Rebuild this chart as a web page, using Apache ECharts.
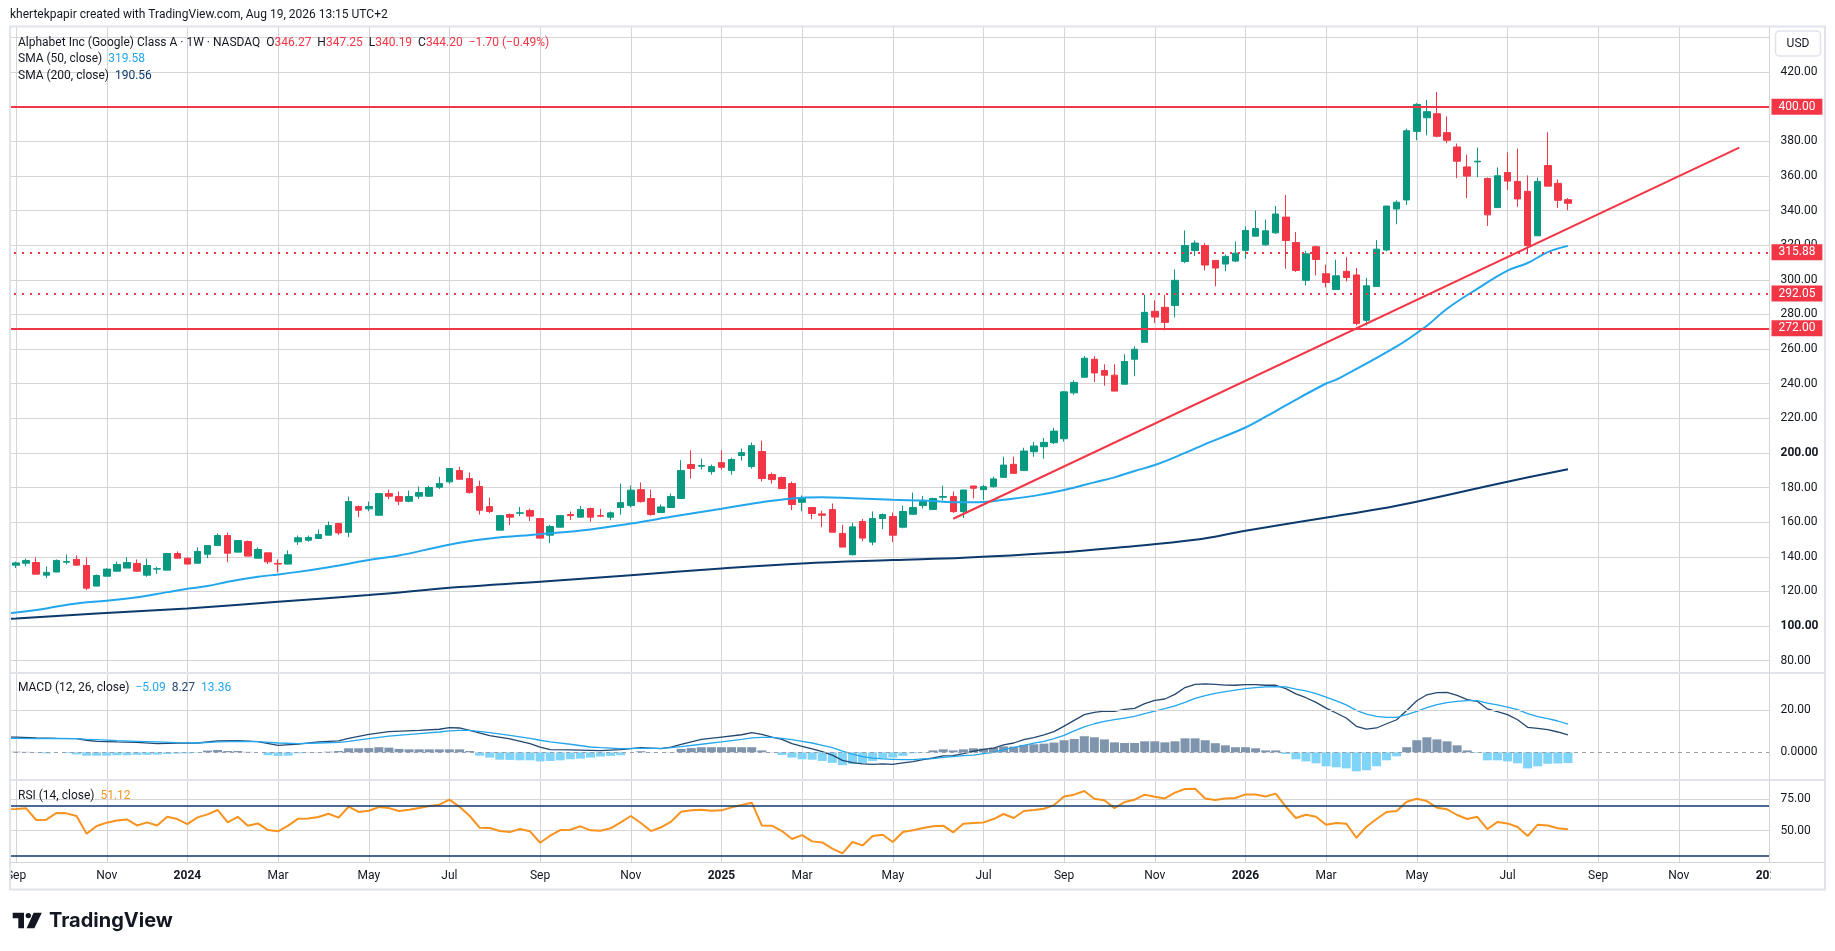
<!DOCTYPE html>
<html>
<head>
<meta charset="utf-8">
<title>Alphabet Inc (Google) Class A · 1W · NASDAQ</title>
<script src="https://cdn.jsdelivr.net/npm/echarts@6.0.0/dist/echarts.min.js"></script>
<style>
  html, body { margin: 0; padding: 0; background: #fff; }
  #chart { width: 1835px; height: 951px; }
</style>
</head>
<body>
<div id="chart"></div>
<script>
// weekly bars, bar 0 = week of Sep 4, 2023, last bar = week of Aug 17, 2026
// [open, high, low, close]
const ohlc = [
  [135.2,137.3,133.5,136.5],[136.3,139.0,134.6,137.9],[136.7,139.6,129.8,130.0],[129.4,134.4,127.7,131.0],
  [131.2,138.5,131.2,137.9],[136.9,141.3,135.6,137.3],[138.5,140.8,135.0,135.2],[135.0,139.6,120.8,121.9],
  [123.1,129.8,123.1,129.2],[128.8,133.3,128.8,132.9],[131.7,137.3,131.7,135.6],[133.5,139.8,133.5,136.7],
  [136.2,138.5,131.2,131.7],[129.4,139.0,128.5,135.0],[132.9,134.2,130.2,133.1],[132.3,141.9,132.3,141.9],
  [141.9,143.1,139.2,139.2],[139.2,139.6,135.8,135.8],[136.3,145.4,136.3,143.1],[141.5,146.5,139.2,146.5],
  [146.5,153.5,146.2,152.3],[152.3,154.0,136.9,142.1],[142.7,149.4,142.7,149.4],[148.8,149.4,140.4,140.4],
  [139.2,145.4,139.2,144.2],[142.3,142.3,135.8,137.1],[136.2,138.5,131.0,135.8],[135.8,143.7,135.8,141.2],
  [148.7,152.3,146.9,151.0],[149.6,152.3,148.7,151.2],[150.6,155.8,150.6,152.9],[152.5,160.4,152.5,158.1],
  [159.2,159.2,152.7,153.8],[154.2,174.8,151.3,171.9],[169.0,169.6,162.9,166.9],[167.7,171.9,166.3,169.0],
  [164.0,176.5,164.0,176.5],[176.5,178.8,173.3,175.0],[174.8,177.7,169.8,172.1],[172.1,178.3,171.5,174.8],
  [175.0,180.6,173.5,177.1],[175.0,181.0,174.6,180.0],[180.2,186.2,179.2,182.3],[183.3,191.0,182.3,191.0],
  [189.8,192.0,184.6,184.8],[185.2,188.7,176.5,177.1],[180.6,184.0,164.4,166.9],[169.0,174.2,165.2,166.2],
  [155.4,164.2,155.4,163.8],[164.4,165.0,158.3,162.9],[165.2,168.8,163.5,165.4],[166.7,167.9,160.6,163.5],
  [162.1,162.1,150.8,150.8],[152.5,158.5,147.9,157.5],[157.1,163.8,157.1,163.8],[164.4,166.2,161.2,163.8],
  [162.9,169.4,162.9,167.3],[167.9,168.5,160.2,162.9],[163.8,167.7,162.9,163.5],[162.9,166.2,161.2,165.4],
  [168.5,182.3,164.4,171.3],[169.6,181.2,168.5,178.5],[178.8,182.9,171.3,171.9],[173.7,178.8,163.8,164.4],
  [165.6,170.2,165.6,168.8],[168.5,176.5,168.5,174.8],[173.7,195.8,173.7,189.8],[193.3,201.5,185.2,191.0],
  [192.3,196.7,190.4,192.7],[189.2,193.3,187.5,192.1],[194.4,201.5,190.4,191.7],[189.8,197.3,187.5,196.2],
  [198.5,202.5,195.6,200.2],[192.1,206.0,191.0,204.2],[200.8,207.1,183.5,185.2],[187.5,188.7,182.3,184.6],
  [185.8,186.3,179.4,179.4],[182.3,183.5,166.9,170.2],[171.5,175.4,166.3,173.8],[168.5,168.5,161.7,165.0],
  [164.8,166.7,157.1,164.0],[167.3,170.8,154.2,154.2],[153.5,158.5,145.6,145.6],[141.2,159.6,140.8,157.3],
  [160.4,161.9,149.0,150.8],[148.5,166.2,146.7,162.1],[162.1,165.0,156.0,164.4],[163.3,165.6,148.5,152.5],
  [157.1,169.6,156.5,166.2],[164.6,177.1,164.6,168.5],[169.6,175.2,167.9,171.9],[167.3,174.2,167.3,173.7],
  [174.4,181.2,172.5,174.8],[174.8,177.7,165.4,166.1],[166.1,178.6,162.3,178.6],[180.9,180.9,173.8,179.6],
  [178.8,181.5,172.9,180.5],[180.5,186.3,180.0,185.0],[185.9,197.8,185.9,193.0],[193.4,197.8,187.8,188.2],
  [189.8,203.0,189.8,201.1],[200.7,206.3,197.8,204.0],[203.6,208.6,196.7,206.1],[205.9,214.4,205.1,212.6],
  [208.2,235.7,206.5,235.3],[234.7,242.0,233.6,240.7],[243.7,255.9,243.7,254.7],[254.1,255.9,240.9,246.2],
  [247.6,251.2,238.8,244.9],[244.9,251.2,235.7,235.7],[239.7,257.0,239.7,252.8],[254.1,261.6,244.3,259.9],
  [263.9,291.4,263.9,281.2],[281.8,288.1,275.1,278.5],[284.1,291.4,270.8,275.4],[285.2,306.0,278.3,299.7],
  [310.6,328.5,309.6,319.8],[316.9,322.7,313.7,321.2],[319.8,321.2,305.4,308.5],[311.2,311.2,296.2,306.8],
  [309.1,314.6,305.0,313.5],[310.8,322.1,310.2,315.4],[317.0,330.8,312.1,328.5],[325.2,340.0,325.2,329.6],
  [320.2,334.8,319.6,328.3],[327.1,342.6,326.6,338.0],[336.2,349.0,306.4,322.7],[321.5,327.6,304.6,305.4],
  [299.7,316.8,296.7,315.0],[319.1,319.7,302.5,311.7],[303.5,308.7,295.6,298.5],[294.4,311.6,294.4,302.3],
  [304.9,313.1,299.0,301.3],[302.8,306.8,273.7,274.8],[276.6,301.1,273.7,296.5],[296.1,322.9,296.1,317.7],
  [317.2,342.6,316.4,342.6],[340.9,345.9,332.1,344.8],[346.1,387.3,343.2,386.1],[385.7,402.0,380.6,401.3],
  [393.6,403.9,383.4,397.1],[395.9,408.5,382.3,382.9],[385.0,394.4,378.9,380.6],[376.7,378.7,358.7,368.5],
  [365.2,372.3,347.2,359.9],[368.1,376.4,359.3,368.5],[358.5,359.1,331.1,337.5],[341.7,364.9,341.7,360.1],
  [362.0,373.5,351.8,357.0],[356.8,375.8,342.1,346.7],[351.1,360.3,315.4,319.7],[325.4,359.1,325.4,356.8],
  [366.0,385.2,354.1,354.1],[355.7,358.0,341.5,345.9],[346.27,347.25,340.19,344.20]
];

// [bar, value] read along the moving averages (bar -1 = week of Aug 28, 2023)
const sma50 = [
  [-1,107.4],[0,107.9],[3,110.2],[6,113.1],[9,114.6],[12,116.6],[15,119.6],[17,121.5],[19,123.1],[21,125.6],
  [24,128.5],[26,129.8],[28,131.3],[31,134.0],[35,138.1],[38,140.8],[41,144.5],[44,148.1],[47,150.6],[52,153.1],
  [57,155.8],[61,159.2],[65,163.1],[70,167.7],[73,170.7],[77,173.7],[80,174.4],[83,173.8],[87,172.9],[90,172.5],
  [94,171.5],[96,171.7],[98,172.9],[101,175.2],[104,178.6],[107,183.0],[109,185.9],[111,189.6],[113,193.0],[116,200.0],
  [118,205.1],[122,214.7],[124,220.9],[126,227.5],[130,240.1],[131,242.3],[137,261.5],[140,273.5],[142,283.3],[145,294.8],
  [148,305.3],[150,309.7],[152,316.0],[154,319.58]
];
const sma200 = [
  [-1,104.2],[0,104.4],[8,107.2],[17,110.2],[26,114.0],[35,117.9],[44,122.5],[52,125.6],[61,129.4],[70,133.3],
  [78,136.2],[87,138.1],[94,139.4],[103,142.3],[110,145.7],[117,149.8],[122,155.0],[131,163.6],[137,169.5],[148,183.4],
  [154,190.56]
];

// drawn trend line and horizontal levels
const trendLine = [[93,162.0],[171,376.3]];
const solidLevels = [400, 272];
const dottedLevels = [315.88, 292.05];

// MACD (12, 26, close)
const macdLine = [
  [-1,7.2],[0,7.2],[2,6.8],[4,6.6],[6,6.5],[7,5.7],[8,5.2],[10,4.9],[12,4.7],[14,4.1],[16,4.3],[18,4.4],[20,5.4],
  [22,5.5],[24,5.0],[26,3.3],[28,3.9],[30,4.9],[32,5.4],[33,6.6],[35,8.5],[37,9.8],[40,10.4],[42,10.9],[43,11.7],
  [44,11.5],[45,10.4],[47,7.9],[49,6.3],[51,4.1],[52,2.4],[53,1.3],[55,1.1],[57,0.9],[58,0.8],[60,1.3],[62,2.2],
  [64,1.7],[65,2.4],[66,3.8],[68,6.1],[70,7.2],[72,8.3],[73,9.3],[74,8.5],[75,7.2],[76,6.1],[77,4.1],[78,2.8],
  [79,1.6],[80,0.3],[81,-1.3],[82,-3.8],[83,-4.9],[84,-5.5],[85,-5.7],[86,-5.5],[87,-5.7],[88,-5.0],[89,-4.4],
  [90,-3.5],[91,-2.7],[92,-1.7],[93,-1.6],[94,-0.6],[95,0.5],[96,1.4],[97,2.0],[98,3.5],[99,4.4],[100,6.0],
  [101,6.9],[102,8.2],[103,9.8],[104,12.4],[105,15.1],[106,17.8],[107,18.9],[108,19.5],[109,19.4],[110,20.3],
  [111,20.8],[112,23.0],[113,24.6],[114,25.2],[115,27.4],[116,30.6],[117,32.1],[118,32.4],[119,32.1],[120,31.8],
  [121,31.7],[122,32.0],[123,32.0],[124,31.7],[125,31.7],[126,30.1],[127,27.6],[128,25.8],[129,23.6],[130,20.9],
  [131,18.6],[132,16.2],[133,12.3],[134,11.0],[135,11.5],[136,13.5],[137,15.4],[138,19.8],[139,24.4],[140,27.2],
  [141,28.2],[142,28.3],[143,26.9],[144,24.9],[145,24.1],[146,20.5],[147,19.2],[148,17.8],[149,15.4],[150,11.8],
  [151,11.3],[152,10.7],[153,9.6],[154,8.27]
];
const signalLine = [
  [-1,6.6],[0,6.6],[2,6.5],[4,6.6],[6,6.5],[7,6.1],[8,6.0],[10,5.5],[12,5.2],[14,4.9],[16,4.6],[18,4.4],[20,4.9],
  [22,5.2],[24,5.0],[26,4.4],[28,4.1],[30,4.4],[32,4.7],[33,5.2],[35,6.5],[37,7.6],[40,8.8],[42,9.6],[43,10.1],
  [44,10.4],[45,10.4],[47,9.3],[49,8.0],[51,6.6],[52,5.7],[53,4.9],[55,3.8],[57,2.5],[58,2.2],[60,1.7],[62,1.9],
  [64,1.9],[65,2.2],[66,2.7],[68,3.8],[70,4.9],[72,6.1],[73,6.8],[74,7.1],[75,7.1],[76,6.6],[77,6.0],[78,5.2],
  [79,4.4],[80,3.3],[81,2.2],[82,0.6],[83,-0.9],[84,-2.0],[85,-2.8],[86,-3.1],[87,-3.3],[88,-3.5],[89,-3.5],
  [90,-3.1],[91,-3.0],[92,-2.4],[93,-2.0],[94,-1.6],[95,-1.3],[96,-0.6],[97,0.0],[98,1.3],[99,2.2],[100,3.3],
  [101,4.3],[102,5.2],[103,6.5],[104,8.0],[105,10.1],[106,12.0],[107,13.5],[108,14.6],[109,15.4],[110,16.2],
  [111,17.0],[112,18.3],[113,19.5],[114,20.6],[115,22.0],[116,23.6],[117,25.5],[118,26.8],[119,27.9],[120,28.7],
  [121,29.4],[122,30.1],[123,30.6],[124,30.9],[125,31.0],[126,30.9],[127,29.9],[128,29.0],[129,27.7],[130,26.1],
  [131,24.3],[132,22.4],[133,19.8],[134,18.0],[135,17.0],[136,16.5],[137,16.5],[138,17.8],[139,19.4],[140,21.1],
  [141,22.5],[142,23.5],[143,24.1],[144,24.4],[145,24.4],[146,23.3],[147,22.4],[148,21.4],[149,20.2],[150,18.3],
  [151,16.9],[152,15.9],[153,14.8],[154,13.36]
];
// histogram, one value per bar from bar 0
const macdHist = [
  0.3,0.2,0.1,-0.5,0.0,-0.4,-1.0,-1.6,-1.6,-1.6,
  -1.4,-1.4,-1.2,-1.2,-1.1,-0.8,-0.6,-0.5,-0.2,0.8,
  1.1,0.6,0.6,0.2,0.0,-1.4,-1.7,-1.6,-0.5,0.1,
  0.1,0.3,0.6,1.9,1.9,2.0,2.4,2.2,1.6,1.4,
  1.4,1.4,1.4,1.4,1.4,0.6,-1.6,-2.5,-3.5,-3.6,
  -3.8,-3.8,-4.3,-4.1,-3.8,-3.3,-3.0,-2.5,-2.0,-1.7,
  -1.4,0.0,0.5,-0.1,0.0,0.1,1.6,2.0,2.4,2.4,
  2.4,2.4,2.4,2.4,0.9,0.1,-1.3,-2.5,-3.3,-3.5,
  -4.1,-5.0,-6.1,-5.5,-5.2,-4.1,-3.0,-2.5,-1.7,-0.5,
  0.1,0.9,1.4,0.9,1.4,1.9,1.7,2.2,2.8,2.7,
  3.5,3.8,4.1,4.6,5.7,6.3,7.6,7.1,6.1,4.7,
  4.4,4.4,5.2,5.2,4.7,5.2,6.6,6.6,5.7,4.3,
  3.3,2.4,2.4,1.9,0.9,0.9,-0.8,-3.3,-4.3,-5.2,
  -6.6,-7.1,-7.6,-9.0,-8.5,-6.6,-3.8,-1.9,2.4,5.7,
  7.1,6.1,5.2,3.3,0.9,-0.3,-3.8,-3.8,-4.3,-5.2,
  -7.6,-6.6,-5.4,-5.3,-5.09
];

// RSI (14, close), one value per week from Aug 28, 2023 (bar -1)
const rsi = [
  67.0,
  67.2,67.8,58.5,58.8,64.1,63.8,61.7,47.6,53.7,56.4,
  58.2,59.0,54.2,56.6,54.2,61.1,59.3,55.3,60.6,63.0,
  66.5,56.6,61.1,54.0,55.8,50.5,49.5,54.0,59.6,59.8,
  60.9,63.5,60.4,69.1,64.9,65.9,68.8,68.0,65.7,66.7,
  68.0,69.6,70.7,74.7,69.1,61.9,52.4,52.1,49.7,48.9,
  51.3,49.5,40.4,46.0,50.5,50.8,53.5,50.3,50.0,51.9,
  56.6,61.7,56.1,49.7,52.7,57.2,65.1,66.2,66.7,65.9,
  66.2,68.6,70.4,72.3,54.2,54.0,49.7,43.4,46.5,41.5,
  40.7,35.7,32.0,41.0,38.3,45.8,46.8,41.0,48.9,50.3,
  52.1,53.5,54.0,48.7,55.6,56.1,56.6,59.3,63.3,60.1,
  65.7,66.5,67.5,70.4,77.3,78.7,81.6,75.5,74.2,68.0,
  72.8,74.7,78.7,77.1,75.7,80.3,83.2,83.4,75.7,74.4,
  75.7,76.0,78.9,78.9,77.3,79.5,69.1,60.1,62.7,61.1,
  54.8,56.1,55.6,44.4,53.2,59.3,64.9,65.7,73.1,75.5,
  73.6,68.3,67.0,62.5,59.3,61.1,51.3,56.9,55.8,52.9,
  45.8,54.8,54.2,51.9,51.12
];
const rsiBands = [70, 30];

// time axis: first weekly bar of every second month
const monthTicks = [
  [0,'Sep'],[9,'Nov'],[17,'2024'],[26,'Mar'],[35,'May'],[43,'Jul'],[52,'Sep'],[61,'Nov'],
  [70,'2025'],[78,'Mar'],[87,'May'],[96,'Jul'],[104,'Sep'],[113,'Nov'],[122,'2026'],[130,'Mar'],
  [139,'May'],[148,'Jul'],[157,'Sep'],[165,'Nov'],[174,'2027']
];

// ---------------------------------------------------------------
const SHIFT = 1;            // axis starts one week before bar 0
const AXIS_WEEKS = 176;     // Aug 28, 2023 .. Jan 4, 2027
const DAY = 86400000;
const axisStart = Date.UTC(2023, 7, 28);
const weeks = [];
for (let k = 0; k < AXIS_WEEKS; k++) {
  weeks.push(new Date(axisStart + k * 7 * DAY).toISOString().slice(0, 10));
}
const tickText = {};
monthTicks.forEach(([i, t]) => { tickText[i + SHIFT] = t; });

const UP = '#089981', DOWN = '#f23645';
const SKY = '#22a6ee', NAVY = '#0c3a6c', MACD_NAVY = '#24476f';
const HIST_POS = '#7f94ad', HIST_NEG = '#80d4f7';
const ORANGE = '#f7931e', TEXT = '#131722', GRID = '#d5d5d5', FRAME = '#e0e3eb';
const FONT = 'Roboto';

const shifted = pts => pts.map(p => [p[0] + SHIFT, p[1]]);
const candleData = ['-'].concat(ohlc.map(([o, h, l, c]) => [o, c, l, h]));
const histData = ['-'].concat(macdHist.map(v => ({ value: v, itemStyle: { color: v >= 0 ? HIST_POS : HIST_NEG } })));

const last = ohlc[ohlc.length - 1];
const prevClose = ohlc[ohlc.length - 2][3];
const chg = last[3] - prevClose;
const minus = s => s.replace('-', '\u2212');
const chgText = minus(chg.toFixed(2)) + ' (' + minus((chg / prevClose * 100).toFixed(2)) + '%)';
const lastOf = arr => arr[arr.length - 1][1];

// pane geometry (px)
const LEFT = 6.0, WIDTH = 1763.5;
const priceGrid = { top: 37.4, height: 623.3 };
const macdGrid = { top: 667.7, height: 126.9 };
const rsiGrid = { top: 780, height: 82.1 };

const chart = echarts.init(document.getElementById('chart'));

const xBase = gridIndex => ({
  type: 'category', gridIndex, data: weeks, boundaryGap: false,
  axisLine: { show: false }, axisTick: { show: false }, axisLabel: { show: false }, splitLine: { show: false }
});

const levelLine = (v, type) => ({
  yAxis: v,
  lineStyle: { color: DOWN, width: 2, type },
  label: {
    show: true, position: 'end', distance: 2, formatter: v.toFixed(2),
    color: '#fff', backgroundColor: DOWN, padding: [2, 7, 1, 7], fontSize: 12, fontFamily: FONT, lineHeight: 13
  }
});

const rs = color => ({ color, fontSize: 12, fontFamily: FONT, fontWeight: 'normal', lineHeight: 14 });
const legendRich = { d: rs(TEXT), r: rs(DOWN), s: rs(SKY), n: rs(NAVY), m: rs(MACD_NAVY), o: rs(ORANGE) };
const legend = (top, text) => ({
  left: 18, top, padding: 0, text,
  textStyle: { rich: legendRich, fontSize: 12, fontWeight: 'normal', color: TEXT, fontFamily: FONT }
});

const option = {
  animation: false,
  backgroundColor: '#fff',
  textStyle: { fontFamily: FONT },
  title: [
    { left: 10, top: 8, padding: 0, text: 'khertekpapir created with TradingView.com, Aug 19, 2026 13:15 UTC+2',
      textStyle: { color: TEXT, fontSize: 12, fontWeight: 'normal', fontFamily: FONT, lineHeight: 14 } },
    legend(35.7, '{d|Alphabet Inc (Google) Class A \u00b7 1W \u00b7 NASDAQ  O}{r|' + last[0].toFixed(2) +
      '}{d|  H}{r|' + last[1].toFixed(2) + '}{d|  L}{r|' + last[2].toFixed(2) + '}{d|  C}{r|' + last[3].toFixed(2) +
      '  ' + chgText + '}'),
    legend(52.3, '{d|SMA (50, close)  }{s|' + lastOf(sma50).toFixed(2) + '}'),
    legend(69, '{d|SMA (200, close)  }{n|' + lastOf(sma200).toFixed(2) + '}'),
    legend(680.5, '{d|MACD (12, 26, close)  }{s|' + minus(macdHist[macdHist.length - 1].toFixed(2)) + '}{m|  ' +
      lastOf(macdLine).toFixed(2) + '}{s|  ' + lastOf(signalLine).toFixed(2) + '}'),
    legend(789, '{d|RSI (14, close)  }{o|' + rsi[rsi.length - 1].toFixed(2) + '}'),
    { left: 49, top: 909, padding: 0, text: 'TradingView',
      textStyle: { color: TEXT, fontSize: 20, fontWeight: 'bold', fontFamily: 'Inter', lineHeight: 24 } }
  ],
  grid: [
    { left: LEFT, width: WIDTH, top: 27, height: 835, containLabel: false },
    { left: LEFT, width: WIDTH, top: priceGrid.top, height: priceGrid.height, containLabel: false },
    { left: LEFT, width: WIDTH, top: macdGrid.top, height: macdGrid.height, containLabel: false },
    { left: LEFT, width: WIDTH, top: rsiGrid.top, height: rsiGrid.height, containLabel: false }
  ],
  xAxis: [
    Object.assign(xBase(0), {
      splitLine: { show: true, interval: idx => idx in tickText, lineStyle: { color: GRID, width: 1 } },
      axisLabel: {
        show: true, interval: idx => idx in tickText, margin: 8, color: TEXT, fontSize: 12, fontFamily: FONT,
        formatter: (v, idx) => {
          const t = tickText[idx] || '';
          return /^\d{4}$/.test(t) ? '{y|' + t + '}' : t;
        },
        rich: { y: { fontWeight: 'bold', fontSize: 12, color: TEXT, fontFamily: FONT } }
      }
    }),
    xBase(1), xBase(2), xBase(3)
  ],
  yAxis: [
    { type: 'value', gridIndex: 0, show: false, min: 0, max: 1 },
    {
      type: 'value', gridIndex: 1, position: 'right', min: 80, max: 440, interval: 20,
      axisLine: { show: false }, axisTick: { show: false },
      splitLine: { show: true, lineStyle: { color: GRID, width: 1 } },
      axisLabel: {
        margin: 11, color: TEXT, fontSize: 12, fontFamily: FONT,
        formatter: v => (v === 440 || v === 400) ? '' : (v === 100 || v === 200) ? '{b|' + v.toFixed(2) + '}' : v.toFixed(2),
        rich: { b: { fontWeight: 'bold', fontSize: 12, color: TEXT, fontFamily: FONT } }
      }
    },
    {
      type: 'value', gridIndex: 2, position: 'right', min: -20, max: 40, interval: 20,
      axisLine: { show: false }, axisTick: { show: false }, splitLine: { show: false },
      axisLabel: { margin: 11, color: TEXT, fontSize: 12, fontFamily: FONT,
        formatter: v => v === 20 ? '20.00' : v === 0 ? '0.0000' : '' }
    },
    {
      type: 'value', gridIndex: 3, position: 'right', min: 25, max: 90.37, interval: 25,
      axisLine: { show: false }, axisTick: { show: false },
      splitLine: { show: true, lineStyle: { color: GRID, width: 1 } },
      axisLabel: { margin: 11, color: TEXT, fontSize: 12, fontFamily: FONT,
        formatter: v => v === 75 ? '75.00' : v === 50 ? '50.00' : '' }
    }
  ],
  series: [
    {
      name: 'GOOGL', type: 'candlestick', xAxisIndex: 1, yAxisIndex: 1, data: candleData, barWidth: 7,
      itemStyle: { color: UP, color0: DOWN, borderColor: UP, borderColor0: DOWN, borderWidth: 1 },
      markLine: {
        silent: true, symbol: ['none', 'none'], animation: false,
        data: solidLevels.map(v => levelLine(v, 'solid')).concat(dottedLevels.map(v => levelLine(v, [2, 6])))
      }
    },
    { name: 'SMA 50', type: 'line', xAxisIndex: 1, yAxisIndex: 1, data: shifted(sma50), smooth: 0.4,
      showSymbol: false, lineStyle: { color: SKY, width: 2 }, z: 3 },
    { name: 'SMA 200', type: 'line', xAxisIndex: 1, yAxisIndex: 1, data: shifted(sma200), smooth: 0.4,
      showSymbol: false, lineStyle: { color: NAVY, width: 2 }, z: 3 },
    { name: 'Trend', type: 'line', xAxisIndex: 1, yAxisIndex: 1, data: shifted(trendLine),
      showSymbol: false, lineStyle: { color: DOWN, width: 2 }, z: 4 },
    {
      name: 'Histogram', type: 'bar', xAxisIndex: 2, yAxisIndex: 2, data: histData, barWidth: 9,
      markLine: {
        silent: true, symbol: ['none', 'none'], label: { show: false }, animation: false,
        data: [
          { yAxis: 20, lineStyle: { color: GRID, width: 1, type: 'solid' } },
          { yAxis: 0, lineStyle: { color: '#9aa0aa', width: 1, type: [4, 4] } }
        ]
      }
    },
    { name: 'MACD', type: 'line', xAxisIndex: 2, yAxisIndex: 2, data: shifted(macdLine),
      showSymbol: false, lineStyle: { color: MACD_NAVY, width: 1.3 } },
    { name: 'Signal', type: 'line', xAxisIndex: 2, yAxisIndex: 2, data: shifted(signalLine),
      showSymbol: false, lineStyle: { color: SKY, width: 1.3 } },
    {
      name: 'RSI', type: 'line', xAxisIndex: 3, yAxisIndex: 3, data: rsi, showSymbol: false,
      lineStyle: { color: ORANGE, width: 2 },
      markLine: {
        silent: true, symbol: ['none', 'none'], label: { show: false }, animation: false,
        data: rsiBands.map(v => ({ yAxis: v, lineStyle: { color: NAVY, width: 1.5, type: 'solid' } }))
      }
    }
  ],
  graphic: {
    elements: [
      // clip the time labels at the pane edges
      { type: 'rect', silent: true, z: 50, shape: { x: 0, y: 20, width: 9.5, height: 880 }, style: { fill: '#fff' } },
      { type: 'rect', silent: true, z: 50, shape: { x: 1770.5, y: 863, width: 54, height: 26 }, style: { fill: '#fff' } },
      // frame and pane separators
      { type: 'rect', silent: true, z: 60, shape: { x: 10, y: 26.5, width: 1815, height: 863 },
        style: { fill: 'none', stroke: FRAME, lineWidth: 2 } },
      { type: 'line', silent: true, z: 60, shape: { x1: 10, y1: 673, x2: 1825, y2: 673 }, style: { stroke: FRAME, lineWidth: 2 } },
      { type: 'line', silent: true, z: 60, shape: { x1: 10, y1: 780, x2: 1825, y2: 780 }, style: { stroke: FRAME, lineWidth: 2 } },
      { type: 'line', silent: true, z: 60, shape: { x1: 10, y1: 862.5, x2: 1825, y2: 862.5 }, style: { stroke: GRID, lineWidth: 1 } },
      { type: 'line', silent: true, z: 60, shape: { x1: 1769.5, y1: 27, x2: 1769.5, y2: 862.5 }, style: { stroke: GRID, lineWidth: 1 } },
      // currency box
      { type: 'rect', silent: true, z: 60, shape: { x: 1775.5, y: 31, width: 45, height: 25, r: 4 },
        style: { fill: '#fff', stroke: FRAME, lineWidth: 1.5 } },
      { type: 'text', silent: true, z: 61, style: { x: 1798, y: 43.5, text: 'USD', fill: TEXT, font: '12px Roboto',
        align: 'center', verticalAlign: 'middle' } },
      // TradingView mark
      { type: 'polygon', silent: true, z: 60, shape: { points: [[12.7,912.7],[24,912.7],[24,928.3],[18.3,928.3],[18.3,918.2],[12.7,918.2]] },
        style: { fill: TEXT } },
      { type: 'circle', silent: true, z: 60, shape: { cx: 28.3, cy: 915.6, r: 2.7 }, style: { fill: TEXT } },
      { type: 'polygon', silent: true, z: 60, shape: { points: [[33.6,912.7],[41.8,912.7],[34.4,928.3],[26.6,928.3]] },
        style: { fill: TEXT } }
    ]
  }
};

chart.setOption(option);
</script>
</body>
</html>
